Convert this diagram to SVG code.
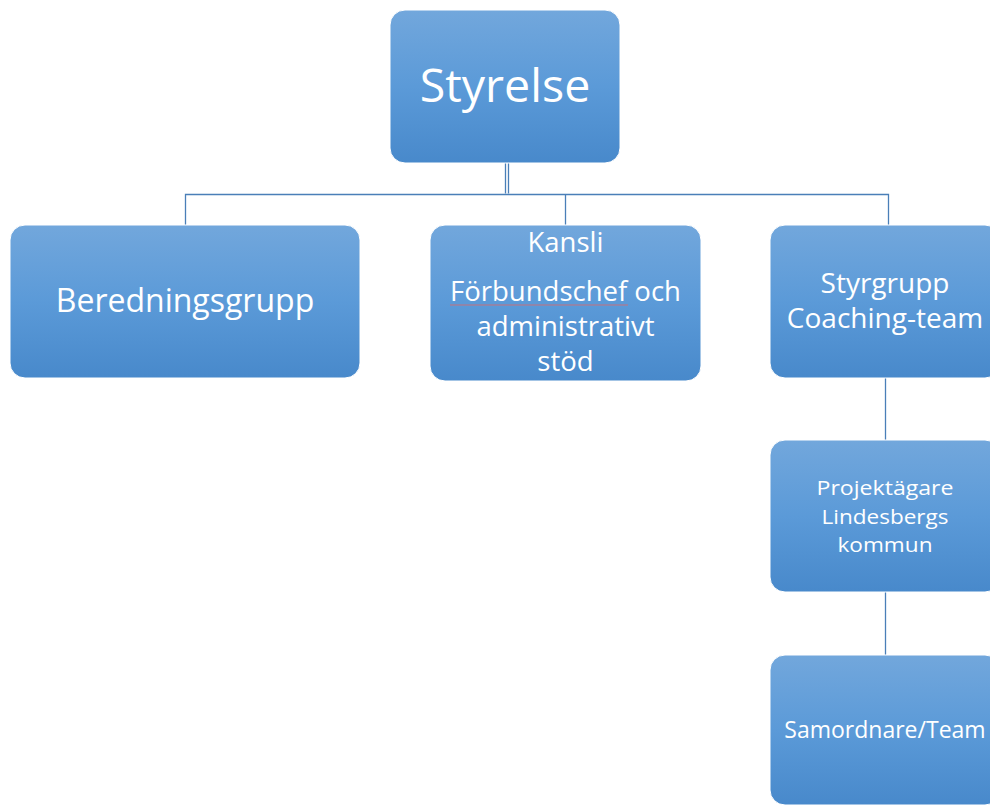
<svg xmlns="http://www.w3.org/2000/svg" width="990" height="805" viewBox="0 0 990 805">
<defs>
<linearGradient id="g" x1="0" y1="0" x2="0" y2="1">
<stop offset="0" stop-color="#72a7dc"/>
<stop offset="0.5" stop-color="#5b9ad8"/>
<stop offset="1" stop-color="#4889cb"/>
</linearGradient>
</defs>
<style>
.box{fill:url(#g);stroke:#ffffff;stroke-width:1}
.t{font-family:"Open Sans","Noto Sans","Liberation Sans",sans-serif;fill:#ffffff;text-anchor:middle}
.c{fill:none;stroke:#4a7fb8;stroke-width:1.3}
</style>
<rect width="990" height="805" fill="#ffffff"/>
<g id="connectors">
<path class="c" d="M505.5,163 V193.5 M508.5,163 V193.5"/>
<path class="c" d="M185.5,225 V194.5 H888.5 V225"/>
<path class="c" d="M565.5,194.5 V225"/>
<path class="c" d="M885.5,378 V440"/>
<path class="c" d="M885.5,592 V655"/>
</g>
<g id="styrelse">
<rect class="box" x="390" y="10" width="230" height="153" rx="15"/>
<text class="t" x="505" y="102" font-size="46.5">Styrelse</text>
</g>
<g id="beredningsgrupp">
<rect class="box" x="10" y="225" width="350" height="153" rx="15"/>
<text class="t" x="185" y="312" font-size="32">Beredningsgrupp</text>
</g>
<g id="kansli">
<rect class="box" x="430" y="225" width="271" height="156" rx="15"/>
<text class="t" x="565.5" y="252" font-size="27.5">Kansli</text>
<text class="t" x="565.5" y="301" font-size="27.5">Förbundschef och</text>
<text class="t" x="565.5" y="336" font-size="27.5">administrativt</text>
<text class="t" x="565.5" y="371" font-size="27.5">stöd</text>
<path d="M450,305 H628" stroke="#e06666" stroke-width="1" fill="none" opacity="0.8"/>
</g>
<g id="styrgrupp">
<rect class="box" x="770" y="225" width="230" height="153" rx="15"/>
<text class="t" x="885" y="293" font-size="28">Styrgrupp</text>
<text class="t" x="885" y="328" font-size="28">Coaching-team</text>
</g>
<g id="projektagare">
<rect class="box" x="770" y="440" width="230" height="152" rx="15"/>
<text class="t" x="885" y="495" font-size="20.5" textLength="137" lengthAdjust="spacingAndGlyphs">Projektägare</text>
<text class="t" x="885" y="523.5" font-size="20.5" textLength="127" lengthAdjust="spacingAndGlyphs">Lindesbergs</text>
<text class="t" x="885" y="552" font-size="20.5" textLength="95" lengthAdjust="spacingAndGlyphs">kommun</text>
</g>
<g id="samordnare">
<rect class="box" x="770" y="655" width="230" height="150" rx="15"/>
<text class="t" x="885" y="738" font-size="23">Samordnare/Team</text>
</g>
</svg>
